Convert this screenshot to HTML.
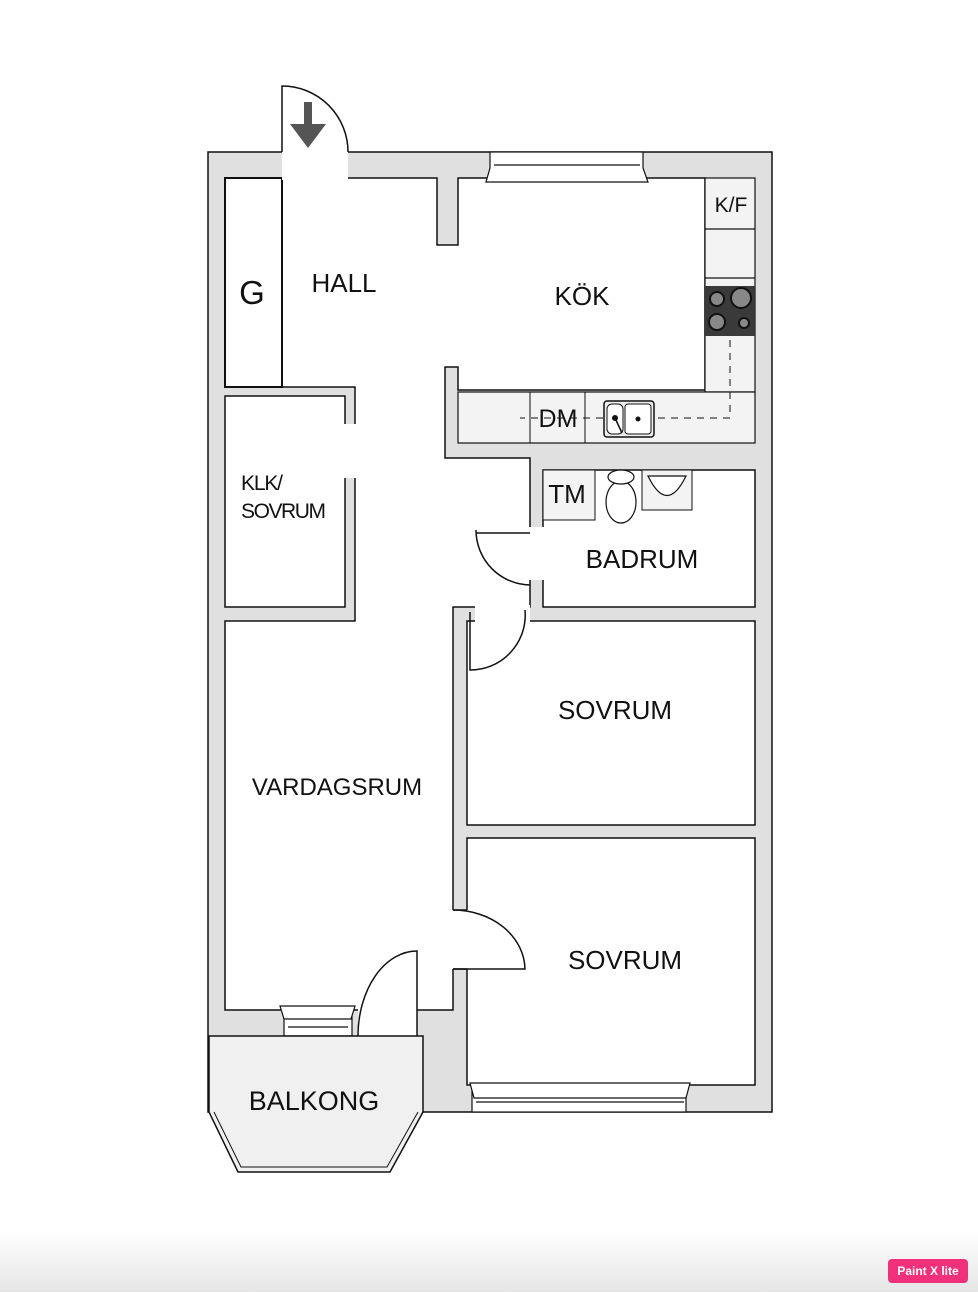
<!DOCTYPE html>
<html><head><meta charset="utf-8"><style>
html,body{margin:0;padding:0;background:#fff;}
svg{display:block;}
text{font-family:"Liberation Sans",sans-serif;fill:#111;}
</style></head><body>
<svg width="978" height="1292" viewBox="0 0 978 1292" xmlns="http://www.w3.org/2000/svg">
<defs><linearGradient id="bg" x1="0" y1="0" x2="0" y2="1"><stop offset="0" stop-color="#fff"/><stop offset="1" stop-color="#e6e6e6"/></linearGradient></defs>
<rect x="0" y="1230" width="978" height="62" fill="url(#bg)"/>
<!-- outer walls -->
<rect x="208" y="152" width="564" height="960" fill="#e0e0e0" stroke="#111" stroke-width="1.5"/>
<!-- main open area -->
<path d="M282 178 H437 V245 H458 V178 H705 V390 H458 V367 H445 V458 H530 V607 H453 V1010 H225 V621 H355 V387 H282 Z" fill="#fff" stroke="#111" stroke-width="1.5"/>
<!-- kitchen cabinets -->
<rect x="705" y="178" width="50" height="214" fill="#f3f3f3" stroke="#111" stroke-width="1.2"/>
<line x1="705" y1="229" x2="755" y2="229" stroke="#111" stroke-width="1.2"/>
<line x1="705" y1="278" x2="755" y2="278" stroke="#111" stroke-width="1.2"/>
<rect x="458" y="392" width="297" height="51" fill="#f3f3f3" stroke="#111" stroke-width="1.2"/>
<line x1="530" y1="392" x2="530" y2="443" stroke="#111" stroke-width="1"/>
<line x1="585" y1="392" x2="585" y2="443" stroke="#111" stroke-width="1"/>
<rect x="705" y="286" width="50" height="50" fill="#3a3a3a"/>
<circle cx="717" cy="299" r="7" fill="#888" stroke="#111" stroke-width="2"/>
<circle cx="741" cy="298" r="10" fill="#888" stroke="#111" stroke-width="2"/>
<circle cx="717" cy="322" r="8" fill="#888" stroke="#111" stroke-width="2"/>
<circle cx="744" cy="323" r="5" fill="#888" stroke="#111" stroke-width="2"/>
<path d="M730 340 V418 H657 M603 418 H520" fill="none" stroke="#111" stroke-width="1" stroke-dasharray="7,6"/>
<rect x="604" y="401" width="50" height="36" rx="3" fill="#eee" stroke="#111" stroke-width="1.5"/>
<rect x="607" y="404" width="16" height="30" rx="5" fill="#fff" stroke="#111" stroke-width="1"/>
<rect x="625" y="404" width="26" height="30" rx="3" fill="#fff" stroke="#111" stroke-width="1"/>
<circle cx="615" cy="418" r="3" fill="#111"/><circle cx="638" cy="419" r="2.5" fill="#111"/>
<line x1="615" y1="418" x2="622" y2="433" stroke="#111" stroke-width="1.5"/>
<!-- G closet -->
<rect x="225" y="178" width="57" height="209" fill="#fff" stroke="#111" stroke-width="2"/>
<!-- KLK room -->
<rect x="225" y="396" width="120" height="211" fill="#fff" stroke="#111" stroke-width="1.5"/>
<rect x="343" y="424" width="14" height="54" fill="#fff"/>
<!-- Badrum -->
<rect x="543" y="470" width="212" height="137" fill="#fff" stroke="#111" stroke-width="1.5"/>
<rect x="528" y="527" width="17" height="53" fill="#fff"/>
<rect x="543" y="470" width="52" height="50" fill="#f3f3f3" stroke="#111" stroke-width="1"/>
<ellipse cx="621" cy="502" rx="15" ry="21" fill="#fff" stroke="#111" stroke-width="1.2"/>
<ellipse cx="621" cy="477" rx="13" ry="7" fill="#fff" stroke="#111" stroke-width="1.2"/>
<rect x="642" y="470" width="50" height="40" fill="#f3f3f3" stroke="#111" stroke-width="1"/>
<path d="M648 476 Q667 515 686 476 Z" fill="#fff" stroke="#111" stroke-width="1.2"/>
<!-- Sovrum 1 -->
<rect x="467" y="621" width="288" height="204" fill="#fff" stroke="#111" stroke-width="1.5"/>
<rect x="475" y="605" width="55" height="18" fill="#fff"/>
<!-- Sovrum 2 -->
<rect x="467" y="838" width="288" height="247" fill="#fff" stroke="#111" stroke-width="1.5"/>
<rect x="451" y="910" width="18" height="59" fill="#fff"/>
<line x1="453" y1="910" x2="467" y2="910" stroke="#111" stroke-width="1.5"/>
<line x1="453" y1="969" x2="467" y2="969" stroke="#111" stroke-width="1.5"/>
<!-- balcony door gap -->
<rect x="358" y="1008" width="59" height="29" fill="#fff"/>
<!-- entrance gap -->
<rect x="282" y="150" width="66" height="30" fill="#fff"/>
<!-- doors -->
<g fill="none" stroke="#111" stroke-width="1.5">
<path d="M282 152 V86 A66 66 0 0 1 348 152"/>
<path d="M476 533 H530 M476 530 A55 55 0 0 0 530 585"/>
<path d="M470 612 V670 A55 55 0 0 0 525 610"/>
<path d="M453 969 H525 A72 60 0 0 0 453 910"/>
<path d="M417 1036 V951 A59 85 0 0 0 358 1036"/>
</g>
<!-- entrance arrow -->
<path d="M304 102 h8 v22 h14 l-18 24 l-18 -24 h14 z" fill="#555"/>
<!-- windows -->
<g fill="#fff" stroke="#111" stroke-width="1.2">
<rect x="490" y="152" width="153" height="24"/>
<path d="M490 168 L486 182 H648 L643 168"/>
<line x1="494" y1="165" x2="640" y2="165"/>
<rect x="472" y="1085" width="214" height="27"/>
<path d="M470 1083 L474 1098 H686 L690 1083 Z"/>
<line x1="476" y1="1102" x2="684" y2="1102"/>
<rect x="284" y="1008" width="68" height="28"/>
<path d="M280 1006 H355 L351 1019 H284 Z"/>
<line x1="288" y1="1027" x2="348" y2="1027"/>
</g>
<!-- balcony -->
<path d="M209 1036 H423 V1112 L390 1172 H238 L209 1112 Z" fill="#f0f0f0" stroke="#111" stroke-width="1.5"/>
<path d="M214 1112 L241 1167 H387 L418 1112" fill="none" stroke="#111" stroke-width="1"/>
<!-- labels -->
<text x="252" y="304" font-size="33" text-anchor="middle">G</text>
<text x="344" y="292" font-size="26" text-anchor="middle">HALL</text>
<text x="582" y="305" font-size="26" text-anchor="middle">KÖK</text>
<text x="731" y="212" font-size="21" text-anchor="middle">K/F</text>
<text x="558" y="427" font-size="25" text-anchor="middle">DM</text>
<text x="567" y="503" font-size="26" text-anchor="middle">TM</text>
<text x="642" y="568" font-size="26" text-anchor="middle">BADRUM</text>
<text x="241" y="490" font-size="21" textLength="42">KLK/</text>
<text x="241" y="518" font-size="21" textLength="85">SOVRUM</text>
<text x="615" y="719" font-size="26" text-anchor="middle">SOVRUM</text>
<text x="337" y="795" font-size="24" text-anchor="middle">VARDAGSRUM</text>
<text x="625" y="969" font-size="26" text-anchor="middle">SOVRUM</text>
<text x="314" y="1110" font-size="27" text-anchor="middle">BALKONG</text>
<!-- badge -->
<rect x="888" y="1259" width="80" height="24" rx="4" fill="#f0307a"/>
<text x="928" y="1275" font-size="12" font-weight="bold" text-anchor="middle" style="fill:#fff">Paint X lite</text>
</svg>
</body></html>
